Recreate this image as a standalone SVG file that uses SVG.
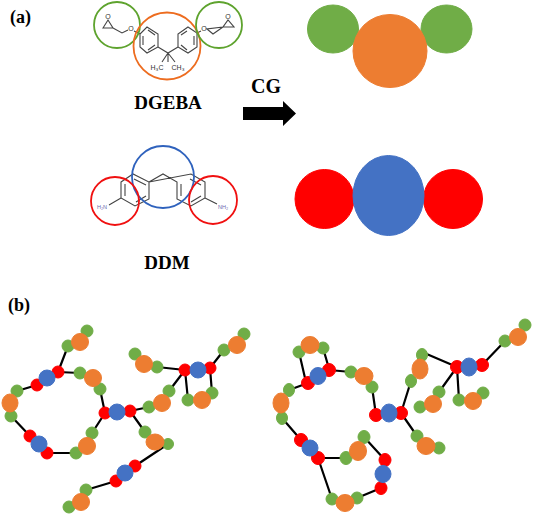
<svg xmlns="http://www.w3.org/2000/svg" width="533" height="515" viewBox="0 0 533 515">
<style>
.g{fill:#70ad47;stroke:#70ad47;stroke-width:1}
.o{fill:#ed7d31;stroke:#ed7d31;stroke-width:1}
.r{fill:#ff0000;stroke:#ff0000;stroke-width:1}
.b{fill:#4472c4;stroke:#4472c4;stroke-width:1}
.l{stroke:#000;stroke-width:2.200;fill:none}
.m{stroke:#444;stroke-width:1.100;fill:none}
.t{font-family:"Liberation Serif",serif;font-weight:bold;fill:#000}
.s{font-family:"Liberation Sans",sans-serif;font-size:7px;fill:#333;text-anchor:middle}
.n{font-family:"Liberation Sans",sans-serif;font-size:5.500px;fill:#6a6ab0;text-anchor:middle}
.c{fill:none;stroke-width:1.800}
</style>
<rect width="533" height="515" fill="#fff"/>
<text class="t" x="10" y="23" font-size="18">(a)</text>
<text class="t" x="8" y="311" font-size="18">(b)</text>
<g id="dgeba-molecule">
<path class="m" d="M103 28L108 20L113 28ZM113 28L122 33L128 30M134 31L140 34M147 27L158 34V47L147 53L140 47V34ZM143 36V45M148 30L155 35M148 50L155 45M158 47L168 53L178 47M188 27L197 33V47L188 53L178 47V34ZM194 36V45M181 35L187 31M181 45L187 50M168 53L162 62M168 53V62M168 53L175 62M197 33L201 31M207 29L213 34L223 27ZM223 27H234L228 20Z"/>
<text class="s" x="108" y="19">O</text>
<text class="s" x="131" y="31">O</text>
<text class="s" x="204" y="31">O</text>
<text class="s" x="228" y="19">O</text>
<text class="s" x="157" y="70">H₃C</text>
<text class="s" x="178" y="70">CH₃</text>
<circle cx="117" cy="25" r="23" stroke="#5ea32e" class="c"/>
<circle cx="167" cy="46" r="33.500" stroke="#ed6c1f" class="c"/>
<circle cx="219" cy="25" r="23" stroke="#5ea32e" class="c"/>
<text class="t" x="168" y="109" font-size="19" text-anchor="middle">DGEBA</text>
</g>
<g id="ddm-molecule">
<path class="m" d="M121 182L133 174L149 182V199L135 206L121 198ZM125 184V196M134 179L146 185M146 196L136 202M121 198L109 205M149 182L163 174L177 182V199L191 206L205 198V182L191 174ZM181 184V196M190 179L201 185M201 196L191 202M205 198L217 204"/>
<text class="n" x="102" y="209">H₂N</text>
<text class="n" x="223" y="209">NH₂</text>
<circle cx="163" cy="177" r="31" stroke="#2f62bd" class="c"/>
<circle cx="115" cy="201" r="24" stroke="#f01010" class="c"/>
<circle cx="213" cy="200" r="24" stroke="#f01010" class="c"/>
<text class="t" x="167" y="269" font-size="19" text-anchor="middle">DDM</text>
</g>
<g id="cg-arrow">
<text class="t" x="266" y="93" font-size="20" text-anchor="middle">CG</text>
<polygon fill="#000" points="243,107 283,107 283,101 296,113.500 283,126 283,120 243,120"/>
</g>
<g id="dgeba-cg">
<ellipse class="g" cx="333" cy="29" rx="25.500" ry="24"/>
<ellipse class="g" cx="446.500" cy="29" rx="25.500" ry="24"/>
<ellipse class="o" cx="390" cy="51" rx="37" ry="36.500"/>
</g>
<g id="ddm-cg">
<circle class="r" cx="324.500" cy="199" r="29.500"/>
<circle class="r" cx="453" cy="199" r="29.500"/>
<ellipse class="b" cx="388.500" cy="195.500" rx="35.500" ry="40"/>
</g>
<g id="connectors">
<path class="l" d="M68 346L58 372M58 372L80 373M100 389L105 413M130 411L149 407M130 411L145 432M168 444L135 466M116 481L86 490M105 413L92 433M76 453L47 453M30 436L11 416M17 391L37 385M157 367L185 370M210 368L224 350M185 370L169 391M185 370L188 400M210 368L212 393"/>
<path class="l" d="M323 348L330 372M299 352L305 378M329 370L351 372M372 387L376 415M401 413L411 381M422 352L457 367M482 365L505 341M457 367L439 392M457 367L459 400M401 413L417 436M308 383L289 390M282 418L301 440M318 458L346 458M364 437L385 460M381 488L357 498M332 499L318 458"/>
</g>
<g id="network-left">
<circle class="g" cx="87" cy="331" r="6"/><circle class="g" cx="68" cy="346" r="6"/><ellipse class="o" cx="80" cy="342" rx="8.500" ry="8.500"/>
<circle class="r" cx="58" cy="372" r="6"/><circle class="r" cx="37" cy="385" r="6"/><circle class="b" cx="47" cy="378" r="8"/>
<circle class="g" cx="80" cy="373" r="6"/><circle class="g" cx="100" cy="389" r="6"/><ellipse class="o" cx="93" cy="378" rx="8.500" ry="8.500"/>
<circle class="r" cx="105" cy="413" r="6"/><circle class="r" cx="130" cy="411" r="6"/><circle class="b" cx="117" cy="412" r="8"/>
<circle class="g" cx="149" cy="407" r="6"/><circle class="g" cx="169" cy="391" r="6"/><ellipse class="o" cx="162" cy="403" rx="8.500" ry="8.500"/>
<circle class="g" cx="145" cy="432" r="6"/><circle class="g" cx="168" cy="444" r="5.500"/><ellipse class="o" cx="155" cy="442" rx="9" ry="8"/>
<circle class="r" cx="135" cy="466" r="6"/><circle class="r" cx="116" cy="481" r="6"/><circle class="b" cx="125" cy="473" r="8"/>
<circle class="g" cx="86" cy="490" r="6"/><circle class="g" cx="69" cy="507" r="6"/><ellipse class="o" cx="81" cy="502" rx="8.500" ry="8.500"/>
<circle class="g" cx="92" cy="433" r="6"/><circle class="g" cx="76" cy="453" r="6"/><ellipse class="o" cx="87" cy="446" rx="8.500" ry="8.500"/>
<circle class="r" cx="47" cy="453" r="6"/><circle class="r" cx="30" cy="436" r="6"/><circle class="b" cx="39" cy="444" r="8"/>
<circle class="g" cx="11" cy="416" r="6"/><circle class="g" cx="17" cy="391" r="6"/><ellipse class="o" cx="10" cy="403" rx="8" ry="9"/>
<circle class="g" cx="135" cy="354" r="6"/><circle class="g" cx="157" cy="367" r="6"/><ellipse class="o" cx="144" cy="364" rx="8.500" ry="8.500"/>
<circle class="r" cx="185" cy="370" r="6"/><circle class="r" cx="210" cy="368" r="6"/><circle class="b" cx="198" cy="370" r="8"/>
<circle class="g" cx="224" cy="350" r="6"/><circle class="g" cx="244" cy="334" r="6"/><ellipse class="o" cx="237" cy="345" rx="8.500" ry="8.500"/>
<circle class="g" cx="188" cy="400" r="6"/><circle class="g" cx="212" cy="393" r="6"/><ellipse class="o" cx="202" cy="400" rx="8.500" ry="8.500"/>
</g>
<g id="network-right">
<circle class="g" cx="299" cy="352" r="6"/><circle class="g" cx="323" cy="348" r="6"/><ellipse class="o" cx="310" cy="345" rx="9" ry="8.500"/>
<circle class="r" cx="329" cy="370" r="6.500"/><circle class="r" cx="308" cy="383" r="6.500"/><ellipse class="b" cx="318" cy="376" rx="8" ry="8.500"/>
<circle class="g" cx="351" cy="372" r="6"/><circle class="g" cx="372" cy="387" r="6"/><ellipse class="o" cx="364" cy="376" rx="9" ry="8.500"/>
<circle class="r" cx="376" cy="415" r="6.500"/><circle class="r" cx="401" cy="413" r="6.500"/><ellipse class="b" cx="389" cy="413" rx="8" ry="9"/>
<ellipse class="g" cx="411" cy="381" rx="5.500" ry="6.500"/><ellipse class="g" cx="422" cy="355" rx="5.500" ry="6.500"/><ellipse class="o" cx="420" cy="369" rx="8" ry="10"/>
<circle class="r" cx="457" cy="367" r="6.500"/><circle class="r" cx="482" cy="365" r="6.500"/><ellipse class="b" cx="469" cy="367" rx="8" ry="9"/>
<circle class="g" cx="505" cy="341" r="6"/><circle class="g" cx="525" cy="325" r="6"/><ellipse class="o" cx="518" cy="337" rx="8.500" ry="8.500"/>
<circle class="g" cx="439" cy="392" r="6"/><circle class="g" cx="420" cy="407" r="6"/><ellipse class="o" cx="433" cy="404" rx="8.500" ry="8.500"/>
<circle class="g" cx="459" cy="400" r="6"/><circle class="g" cx="483" cy="393" r="6"/><ellipse class="o" cx="473" cy="401" rx="8.500" ry="8.500"/>
<circle class="g" cx="417" cy="436" r="6"/><circle class="g" cx="439" cy="448" r="6"/><ellipse class="o" cx="426" cy="446" rx="9" ry="8.500"/>
<ellipse class="g" cx="289" cy="390" rx="5.500" ry="6.500"/><ellipse class="g" cx="282" cy="418" rx="5.500" ry="6.500"/><ellipse class="o" cx="281" cy="403" rx="8" ry="10"/>
<circle class="r" cx="301" cy="440" r="6.500"/><circle class="r" cx="318" cy="458" r="6.500"/><ellipse class="b" cx="310" cy="448" rx="8" ry="8"/>
<ellipse class="g" cx="346" cy="458" rx="6" ry="6.500"/><ellipse class="g" cx="364" cy="437" rx="6" ry="6.500"/><ellipse class="o" cx="358" cy="451" rx="8.500" ry="9.500"/>
<ellipse class="r" cx="385" cy="460" rx="6" ry="6.500"/><ellipse class="r" cx="381" cy="488" rx="6" ry="6.500"/><ellipse class="b" cx="383" cy="474" rx="8" ry="8.500"/>
<circle class="g" cx="357" cy="498" r="6"/><circle class="g" cx="332" cy="499" r="6"/><ellipse class="o" cx="345" cy="503" rx="9" ry="8.500"/>
</g>
</svg>
